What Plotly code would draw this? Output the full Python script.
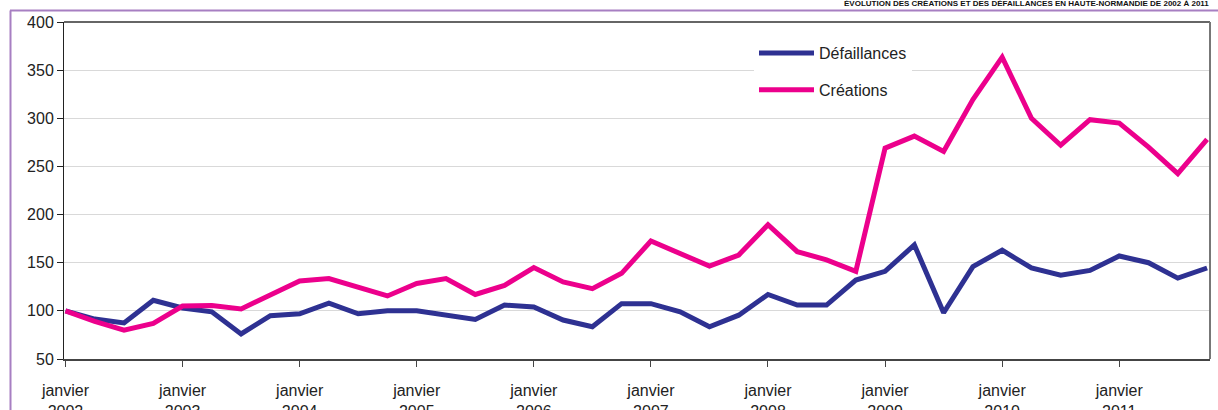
import plotly.graph_objects as go

W, H = 1218, 410
ML, MR, MT, MB = 64, 8, 22, 51

quarters = list(range(40))
tick_positions = [0, 4, 8, 12, 16, 20, 24, 28, 32, 36]
tick_labels = ["janvier<br>2002", "janvier<br>2003", "janvier<br>2004", "janvier<br>2005",
               "janvier<br>2006", "janvier<br>2007", "janvier<br>2008", "janvier<br>2009",
               "janvier<br>2010", "janvier<br>2011"]

defaillances = [100, 91.5, 87.5, 111, 103, 99, 76, 95, 97, 108,
                97, 100, 100, 95, 91, 106, 104, 90.5, 83.5, 107.5,
                107.5, 99, 83.5, 95.5, 117, 106, 106, 132, 141, 168.5,
                98, 146, 163, 144.5, 137, 142, 157, 150, 134, 144.5]
creations = [100, 89, 80, 87, 105, 105.5, 102, 116.5, 131, 133.5,
             125, 115.5, 128.5, 133.5, 117, 126.5, 145, 130, 123, 139,
             172.5, 159.5, 146.5, 158, 189.5, 161.5, 153, 141, 269, 281.5,
             265.5, 319.5, 363.5, 300, 272, 298.5, 295, 270, 242.5, 278]

title_text = "ÉVOLUTION DES CRÉATIONS ET DES DÉFAILLANCES EN HAUTE-NORMANDIE DE 2002 À 2011"

FONT = "Liberation Sans, Arial, sans-serif"

fig = go.Figure()
fig.add_trace(go.Scatter(x=quarters, y=defaillances, mode="lines", name="Défaillances",
                         line=dict(color="#2e3192", width=5), legendgroup="a"))
fig.add_trace(go.Scatter(x=quarters, y=creations, mode="lines", name="Créations",
                         line=dict(color="#ec008c", width=5), legendgroup="b"))

pw = W - ML - MR
ph = H - MT - MB
def px_x(X):
    return (X - ML) / pw
def px_y(Y):
    return (H - MB - Y) / ph

frame_col = "#a77fc2"
fig.add_shape(type="line", xref="paper", yref="paper", x0=px_x(10), x1=px_x(1230),
              y0=px_y(10.5), y1=px_y(10.5), line=dict(color=frame_col, width=2))
fig.add_shape(type="line", xref="paper", yref="paper", x0=px_x(10.5), x1=px_x(10.5),
              y0=px_y(10.5), y1=px_y(420), line=dict(color=frame_col, width=2))

fig.add_annotation(xref="paper", yref="paper", x=px_x(1210), y=px_y(9.5), xanchor="right",
                   yanchor="bottom", text="<b>" + title_text + "</b>", showarrow=False,
                   font=dict(family=FONT, size=8, color="#111"), borderpad=0)

fig.update_layout(
    width=W, height=H,
    margin=dict(l=ML, r=MR, t=MT, b=MB, autoexpand=False),
    paper_bgcolor="white", plot_bgcolor="white",
    font=dict(family=FONT, size=16, color="#222"),
    showlegend=True,
    legend=dict(x=px_x(754), y=px_y(36), xanchor="left", yanchor="top",
                bgcolor="white", font=dict(family=FONT, size=16, color="#222"),
                itemwidth=55, tracegroupgap=13, borderwidth=0),
    xaxis=dict(range=[-0.05, 39.1], tickmode="array", tickvals=tick_positions,
               ticktext=tick_labels, showgrid=False, zeroline=False, automargin=False,
               ticks="outside", ticklen=6, tickcolor="#444", tickwidth=1,
               ticklabelstandoff=10,
               showline=True, linecolor="#444", linewidth=2, mirror=False,
               tickfont=dict(family=FONT, size=16, color="#222")),
    yaxis=dict(range=[50, 400], dtick=50, showgrid=True, gridcolor="#d9d9d9", gridwidth=1,
               zeroline=False, ticks="outside", ticklen=6, tickcolor="#222", automargin=False,
               showline=True, linecolor="#222", linewidth=1,
               tickfont=dict(family=FONT, size=16, color="#222")),
)
# top and right plot border
fig.add_shape(type="line", xref="paper", yref="paper", x0=0, x1=1, y0=1, y1=1,
              line=dict(color="#333", width=1.5))
fig.add_shape(type="line", xref="paper", yref="paper", x0=1, x1=1, y0=0, y1=1,
              line=dict(color="#777", width=2))

fig.write_html("out.html", config={"displayModeBar": False},
               post_script="document.body.style.margin='0';document.body.style.overflow='hidden';")
